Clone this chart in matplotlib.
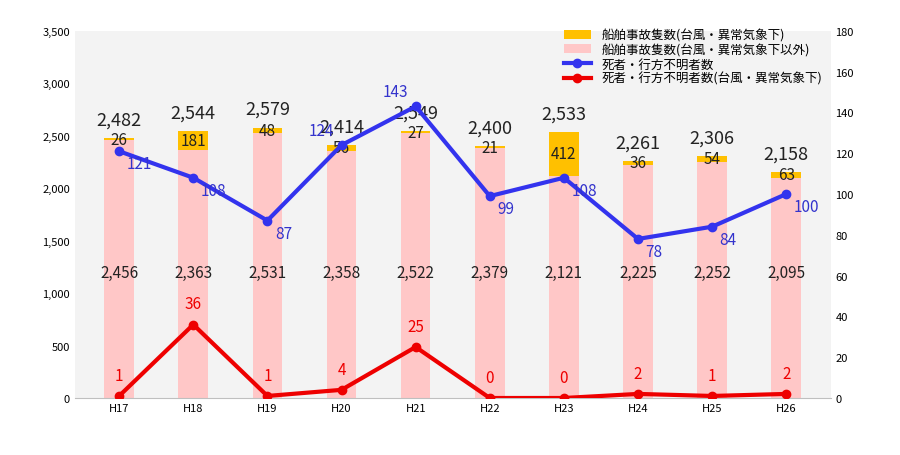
import matplotlib
matplotlib.use("Agg")
import matplotlib.pyplot as plt

plt.rcParams["font.family"] = "Noto Sans CJK JP"

years = ["H17", "H18", "H19", "H20", "H21", "H22", "H23", "H24", "H25", "H26"]
other = [2456, 2363, 2531, 2358, 2522, 2379, 2121, 2225, 2252, 2095]
typhoon = [26, 181, 48, 56, 27, 21, 412, 36, 54, 63]
totals = [2482, 2544, 2579, 2414, 2549, 2400, 2533, 2261, 2306, 2158]
deaths = [121, 108, 87, 124, 143, 99, 108, 78, 84, 100]
deaths_typhoon = [1, 36, 1, 4, 25, 0, 0, 2, 1, 2]

fig = plt.figure(figsize=(9, 4.56), dpi=100)
ax = fig.add_axes([0.083, 0.125, 0.84, 0.805])
ax.set_facecolor("#f3f3f3")
x = list(range(len(years)))
ax.bar(x, other, width=0.4, color="#ffc7c7", label="船舶事故隻数(台風・異常気象下以外)", zorder=2)
ax.bar(x, typhoon, width=0.4, bottom=other, color="#ffc000", label="船舶事故隻数(台風・異常気象下)", zorder=2)
ax.set_ylim(0, 3500)
ax.set_yticks(range(0, 3501, 500))
ax.set_yticklabels([f"{v:,}" for v in range(0, 3501, 500)], fontsize=8)
ax.set_xticks(x)
ax.set_xticklabels(years, fontsize=8)
ax.set_xlim(-0.6, 9.6)
for s in ["top", "right", "left"]:
    ax.spines[s].set_visible(False)
ax.spines["bottom"].set_color("#bfbfbf")
ax.tick_params(length=0)

for i in x:
    ax.text(i, totals[i] + 90, f"{totals[i]:,}", ha="center", va="bottom", fontsize=13, color="#222", zorder=5)
    ax.text(i, other[i] + typhoon[i] / 2, str(typhoon[i]), ha="center", va="center", fontsize=11, color="#222")
    ax.text(i, 1200, f"{other[i]:,}", ha="center", va="center", fontsize=11, color="#222")

ax2 = ax.twinx()
ax2.set_ylim(0, 180)
ax2.set_yticks(range(0, 181, 20))
ax2.tick_params(labelsize=8, length=0)
for s in ax2.spines.values():
    s.set_visible(False)
ax2.plot(x, deaths, color="#3333ee", lw=3, marker="o", ms=6, label="死者・行方不明者数", zorder=3)
ax2.plot(x, deaths_typhoon, color="#ee0000", lw=3, marker="o", ms=6, label="死者・行方不明者数(台風・異常気象下)", zorder=3)
for i in x:
    if i in (3, 4):
        ax2.text(i - 0.1, deaths[i] + 3, str(deaths[i]), ha="right", va="bottom", fontsize=11, color="#3333cc", zorder=6)
    else:
        ax2.text(i + 0.1, deaths[i] - 2, str(deaths[i]), ha="left", va="top", fontsize=11, color="#3333cc", zorder=6)
    ax2.text(i, deaths_typhoon[i] + 6, str(deaths_typhoon[i]), ha="center", va="bottom", fontsize=11, color="#ee0000")

h1, l1 = ax.get_legend_handles_labels()
h2, l2 = ax2.get_legend_handles_labels()
leg = ax2.legend([h1[1], h1[0]] + h2, [l1[1], l1[0]] + l2, loc="upper right",
                 bbox_to_anchor=(1.0, 1.03), fontsize=9, frameon=False,
                 handlelength=2.2, labelspacing=0.1, borderpad=0.2)
fig.savefig("out.png", dpi=100, facecolor="white")
